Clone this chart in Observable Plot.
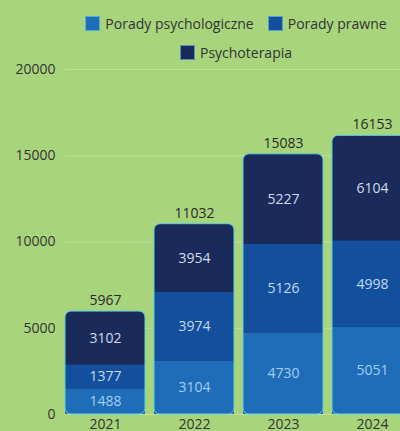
<!DOCTYPE html>
<html>
<head>
<meta charset="utf-8">
<script src="https://cdn.jsdelivr.net/npm/d3@7"></script>
<script src="https://cdn.jsdelivr.net/npm/@observablehq/plot@0.6"></script>
<style>
  html, body { margin: 0; padding: 0; background: #a8d47c; width: 400px; height: 431px; overflow: hidden; }
  #legend { box-sizing: border-box; height: 60px; padding: 13px 0 0 72px; width: 400px;
    display: flex; flex-wrap: wrap; justify-content: center; align-content: flex-start;
    font-family: "Open Sans", sans-serif; font-size: 14px; color: #333; row-gap: 9px; column-gap: 14px; }
  .item { display: flex; align-items: center; height: 20px; }
  .sw { width: 15px; height: 15px; margin-right: 5px; box-sizing: border-box; border: 1px solid rgba(120,220,230,0.6); }
  #chart svg { display: block; }
</style>
</head>
<body>
<div id="legend"></div>
<div id="chart"></div>
<script>
const years = ["2021", "2022", "2023", "2024"];
const psychologiczne = [1488, 3104, 4730, 5051];
const prawne = [1377, 3974, 5126, 4998];
const psychoterapia = [3102, 3954, 5227, 6104];
const yTicks = [0, 5000, 10000, 15000, 20000];
const seriesNames = ["Porady psychologiczne", "Porady prawne", "Psychoterapia"];
const colors = ["#1f6cb8", "#134f9d", "#1a2b5b"];

const table = years.map((year, i) => {
  const a = psychologiczne[i], b = prawne[i], c = psychoterapia[i];
  return { year, a, b, c, ab: a + b, total: a + b + c };
});

const legend = document.getElementById("legend");
seriesNames.forEach((n, i) => {
  const it = document.createElement("div");
  it.className = "item";
  const sw = document.createElement("span");
  sw.className = "sw";
  sw.style.background = colors[i];
  const t = document.createElement("span");
  t.textContent = n;
  it.appendChild(sw); it.appendChild(t);
  legend.appendChild(it);
});

const chart = Plot.plot({
  width: 400, height: 371,
  marginTop: 9, marginBottom: 17, marginLeft: 65, marginRight: 0,
  style: { background: "transparent", fontFamily: "Open Sans, sans-serif", fontSize: "14px", color: "#333" },
  x: { domain: years, range: [56, 421], padding: 0.1, label: null, tickSize: 0, tickPadding: 5 },
  y: { domain: [0, 20000], ticks: yTicks, tickFormat: d3.format("d"), label: null, tickSize: 0, tickPadding: 10 },
  marks: [
    Plot.ruleY(yTicks, { stroke: "#bde19b", strokeWidth: 1 }),
    Plot.barY(table, { x: "year", y1: 0, y2: "total", fill: colors[2], rx: 6 }),
    Plot.barY(table, { x: "year", y1: 0, y2: "a", fill: colors[0] }),
    Plot.barY(table, { x: "year", y1: "a", y2: "ab", fill: colors[1] }),
    Plot.barY(table, { x: "year", y1: 0, y2: "total", fill: "none", stroke: "#5ccfe0", strokeWidth: 1, rx: 6 }),
    Plot.text(table, { x: "year", y: d => d.a / 2, text: d => String(d.a), fill: "#9fd0f3", fontSize: 14 }),
    Plot.text(table, { x: "year", y: d => d.a + d.b / 2, text: d => String(d.b), fill: "#c3d9f0", fontSize: 14 }),
    Plot.text(table, { x: "year", y: d => d.ab + d.c / 2, text: d => String(d.c), fill: "#d2dbea", fontSize: 14 }),
    Plot.text(table, { x: "year", y: "total", text: d => String(d.total), dy: -11, fill: "#2a2a2a", fontSize: 14 })
  ]
});
document.getElementById("chart").appendChild(chart);
</script>
</body>
</html>
